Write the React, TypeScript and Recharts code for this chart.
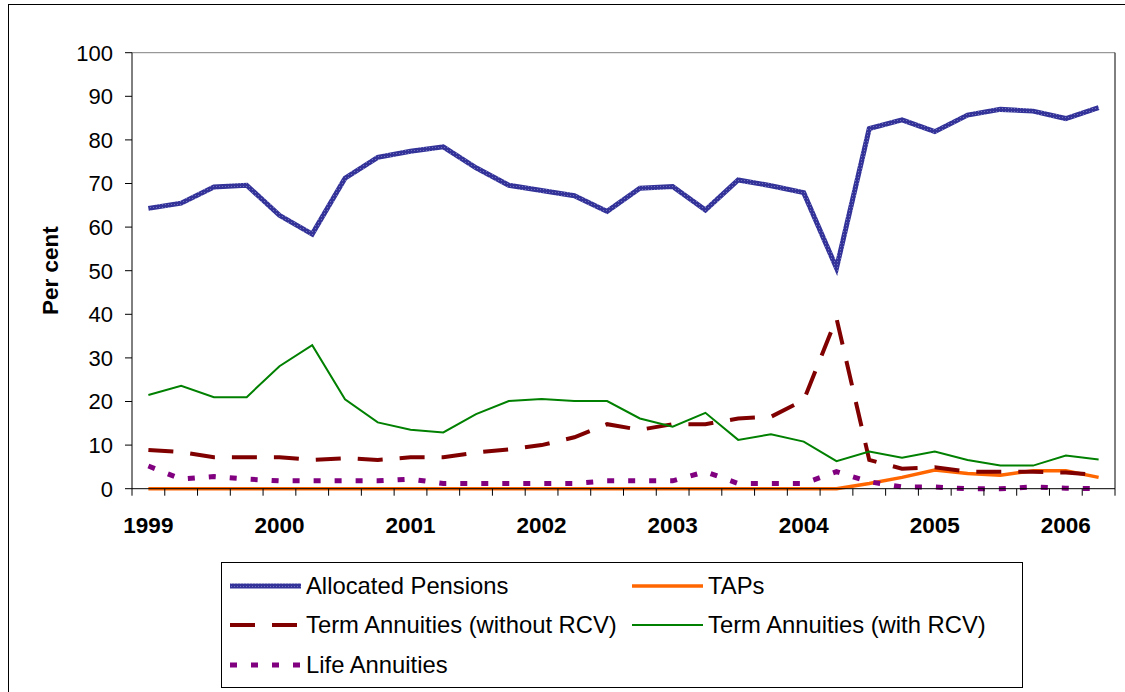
import React from 'react';
import { LineChart, Line, XAxis, YAxis, ReferenceLine, Legend } from 'recharts';

// quarterly observations, March 1999 .. June 2006
const quarters = [
  '1999Q1', '1999Q2', '1999Q3', '1999Q4',
  '2000Q1', '2000Q2', '2000Q3', '2000Q4',
  '2001Q1', '2001Q2', '2001Q3', '2001Q4',
  '2002Q1', '2002Q2', '2002Q3', '2002Q4',
  '2003Q1', '2003Q2', '2003Q3', '2003Q4',
  '2004Q1', '2004Q2', '2004Q3', '2004Q4',
  '2005Q1', '2005Q2', '2005Q3', '2005Q4',
  '2006Q1', '2006Q2',
];

const yearTicks = ['1999', '2000', '2001', '2002', '2003', '2004', '2005', '2006'];
const percentTicks = [0, 10, 20, 30, 40, 50, 60, 70, 80, 90, 100];

const allocatedPensions = [
  64.3, 65.5, 69.2, 69.6, 62.7, 58.4, 71.2, 76.0, 77.4, 78.4,
  73.6, 69.6, 68.4, 67.2, 63.6, 68.9, 69.3, 63.9, 70.8, 69.5,
  67.9, 50.6, 82.6, 84.6, 81.9, 85.7, 87.0, 86.6, 84.9, 87.4,
];
const taps = [
  0, 0, 0, 0, 0, 0, 0, 0, 0, 0,
  0, 0, 0, 0, 0, 0, 0, 0, 0, 0,
  0, 0, 1.2, 2.6, 4.3, 3.5, 3.1, 4.1, 4.1, 2.6,
];
const termWithoutRcv = [
  8.9, 8.4, 7.2, 7.2, 7.2, 6.6, 7.0, 6.6, 7.2, 7.2,
  8.3, 9.0, 10.0, 11.8, 14.8, 13.5, 14.8, 14.8, 16.1, 16.5,
  20.3, 39.1, 6.6, 4.6, 4.9, 3.9, 3.9, 3.9, 3.7, 3.1,
];
const termWithRcv = [
  21.5, 23.6, 21.0, 21.0, 28.1, 32.9, 20.5, 15.2, 13.5, 12.9,
  17.1, 20.1, 20.6, 20.1, 20.1, 16.1, 14.2, 17.4, 11.2, 12.5,
  10.8, 6.3, 8.5, 7.1, 8.5, 6.6, 5.3, 5.3, 7.6, 6.7,
];
const lifeAnnuities = [
  5.2, 2.2, 2.8, 2.2, 1.8, 1.8, 1.8, 1.8, 2.2, 1.2,
  1.2, 1.2, 1.2, 1.2, 1.8, 1.8, 1.8, 3.9, 1.2, 1.2,
  1.2, 3.9, 1.6, 0.4, 0.4, 0.0, 0.0, 0.4, 0.1, 0.0,
];

const data = quarters.map((q, i) => ({
  i,
  q,
  allocated: allocatedPensions[i],
  taps: taps[i],
  termWithout: termWithoutRcv[i],
  termWith: termWithRcv[i],
  life: lifeAnnuities[i],
}));

type SeriesStyle = {
  key: string;
  name: string;
  stroke: string;
  width: number;
  dash?: string;
};

const series: SeriesStyle[] = [
  { key: 'allocated', name: 'Allocated Pensions', stroke: 'url(#apHatch)', width: 5 },
  { key: 'taps', name: 'TAPs', stroke: '#ff6600', width: 3.5 },
  { key: 'termWithout', name: 'Term Annuities (without RCV)', stroke: '#800000', width: 4, dash: '25 17' },
  { key: 'termWith', name: 'Term Annuities (with RCV)', stroke: '#008000', width: 2 },
  { key: 'life', name: 'Life Annuities', stroke: '#800080', width: 5, dash: '7 14' },
];

// legend slots: [left, row centre] inside the box
const legendSlots: [number, number][] = [
  [7, 24], [409, 24], [7, 63], [409, 63], [7, 103],
];

// tick marks sit between quarters, year labels under Q1
const xTicks = quarters.flatMap((_, i) => [i - 0.5, i]).concat(quarters.length - 0.5);

const QuarterTick = (props: any) => {
  const { x, y, payload } = props;
  const v = payload.value;
  if (!Number.isInteger(v)) {
    return <line x1={x} y1={y} x2={x} y2={y + 7} stroke="#000" strokeWidth={1} />;
  }
  if (v % 4 !== 0) return <g />;
  return (
    <text x={x} y={y + 44} textAnchor="middle" fontSize={22.5} fontWeight="bold" fill="#000">
      {yearTicks[v / 4]}
    </text>
  );
};

const LegendBox = () => (
  <div
    style={{
      position: 'relative',
      width: 802,
      height: 126,
      border: '1px solid #000',
      boxSizing: 'border-box',
      background: '#fff',
      fontFamily: '"Liberation Sans", Arial, sans-serif',
      fontSize: 23.8,
      color: '#000',
    }}
  >
    {series.map((s, idx) => {
      const [left, cy] = legendSlots[idx];
      return (
        <div
          key={s.key}
          style={{
            position: 'absolute',
            left: left - 1,
            top: cy - 17,
            height: 32,
            display: 'flex',
            alignItems: 'center',
            whiteSpace: 'nowrap',
          }}
        >
          <svg width={73} height={12} style={{ marginRight: 5 }}>
            <line
              x1={2}
              y1={6}
              x2={73}
              y2={6}
              stroke={s.stroke}
              strokeWidth={s.width}
              strokeDasharray={s.dash}
            />
          </svg>
          <span>{s.name}</span>
        </div>
      );
    })}
  </div>
);

export default function App() {
  return (
    <div
      style={{
        position: 'absolute',
        left: 0,
        top: 0,
        width: 1125,
        height: 692,
        overflow: 'hidden',
        background: '#fff',
      }}
    >
      <div
        style={{
          position: 'absolute',
          left: 8,
          top: 4,
          width: 1200,
          height: 800,
          border: '1px solid #000',
        }}
      />
      <div style={{ position: 'absolute', left: 0, top: 0 }}>
        <LineChart
          width={1125}
          height={692}
          data={data}
          margin={{ top: 52.7, right: 10, bottom: 153.3, left: 40 }}
          style={{ fontFamily: '"Liberation Sans", Arial, sans-serif' }}
        >
          <defs>
            <pattern id="apHatch" width="3" height="3" patternUnits="userSpaceOnUse">
              <rect width="3" height="3" fill="#333399" />
              <rect width="1" height="1" fill="#7373bd" />
            </pattern>
          </defs>
          <XAxis
            dataKey="i"
            type="number"
            domain={[-0.5, quarters.length - 0.5]}
            ticks={xTicks}
            interval={0}
            height={50}
            tickLine={false}
            tickSize={0}
            tickMargin={0}
            axisLine={{ stroke: '#000', strokeWidth: 1 }}
            tick={<QuarterTick />}
          />
          <YAxis
            type="number"
            domain={[0, 100]}
            ticks={percentTicks}
            interval={0}
            width={92}
            tickSize={7}
            tickMargin={12}
            axisLine={{ stroke: '#000', strokeWidth: 1 }}
            tickLine={{ stroke: '#000', strokeWidth: 1 }}
            tick={{ fontSize: 22, fill: '#000' }}
            label={{
              value: 'Per cent',
              angle: -90,
              position: 'insideLeft',
              offset: 10,
              style: { textAnchor: 'middle', fontSize: 22.5, fontWeight: 'bold', fill: '#000' },
            }}
          />
          <ReferenceLine y={100} stroke="#808080" strokeWidth={1} />
          <ReferenceLine x={quarters.length - 0.5} stroke="#000" strokeWidth={1} />
          {series.map((s) => (
            <Line
              key={s.key}
              dataKey={s.key}
              name={s.name}
              type="linear"
              stroke={s.stroke}
              strokeWidth={s.width}
              strokeDasharray={s.dash}
              dot={false}
              activeDot={false}
              isAnimationActive={false}
            />
          ))}
          <Legend
            layout="horizontal"
            verticalAlign="middle"
            align="center"
            wrapperStyle={{ left: 221, top: 562, width: 802, height: 126 }}
            content={() => <LegendBox />}
          />
        </LineChart>
      </div>
    </div>
  );
}
